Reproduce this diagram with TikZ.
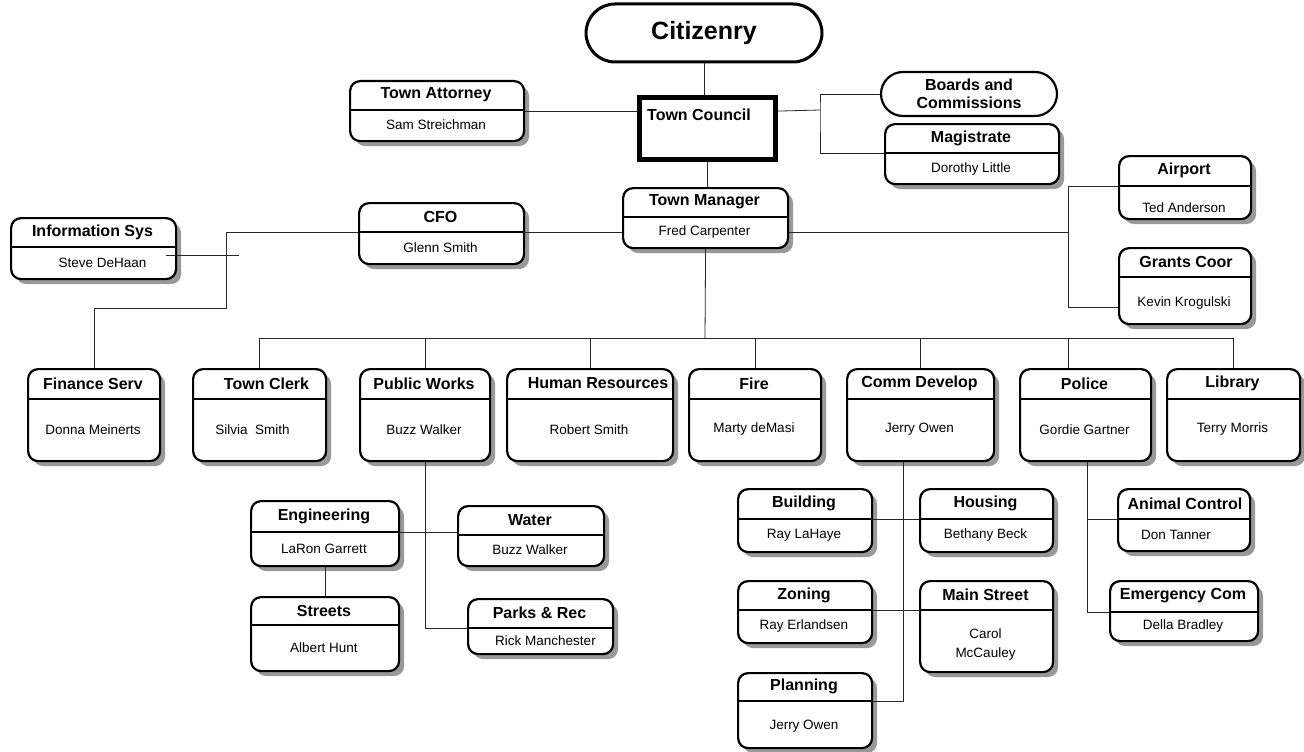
\documentclass[tikz,border=0pt]{standalone}
\usepackage{fontspec}
\setmainfont{Liberation Sans}
\usetikzlibrary{shadows,shapes.misc,calc}

\tikzset{
  orgbox/.style={draw, line width=2.2pt, rounded corners=10pt, fill=white,
    anchor=north west, inner sep=0pt,
    drop shadow={shadow xshift=5pt, shadow yshift=-5pt, fill=black!40, opacity=1}},
  pill/.style={draw, line width=2.2pt, rounded rectangle, fill=white, align=center,
    inner sep=1pt, font=\bfseries\fontsize{16}{18}\selectfont},
  sepline/.style={line width=2.8pt},
  boxtitle/.style={font=\bfseries\fontsize{16}{18}\selectfont, inner sep=0pt},
  boxname/.style={font=\fontsize{13.5}{19}\selectfont, align=center, inner sep=0pt},
  link/.style={line width=0.8pt, draw=black!85},
}

\begin{document}
\begin{tikzpicture}[x=1pt, y=-1pt]
    \useasboundingbox (0,0) rectangle (1304,752);

    % top of the chart
    \node[pill, line width=3pt, minimum width=238, minimum height=58,
        font=\bfseries\fontsize{25}{28}\selectfont] (cit) at (704,33) {Citizenry};
    \node[pill, minimum width=178, minimum height=44] (bc) at (969,94) {Boards and\\Commissions};
    \node[draw, line width=4.5pt, fill=white, anchor=north west, minimum width=136, minimum height=62,
        drop shadow={shadow xshift=3pt, shadow yshift=-3pt, fill=black!40, opacity=1}] (tc) at (637,95) {};
    \node[boxtitle] (tc-t) at (699,115) {Town Council};

    % offices: id / left / top / width / height / header / title shift / name shifts / title / person
    \foreach \id/\x/\y/\w/\h/\hd/\tx/\nx/\ny/\ttl/\per in {
        ta/349/80/174/60/30/0/0/0/Town Attorney/Sam Streichman,
        mag/884/123/174/60/30/0/0/1/Magistrate/Dorothy Little,
        tm/622/187/165/60/30/0/0/0/Town Manager/Fred Carpenter,
        cfo/358/202/165/61/30/0/0/0/CFO/Glenn Smith,
        is/10/217/165/61/30/0/10/0/Information Sys/Steve DeHaan,
        air/1118/155/132/63/31/0/0/6/Airport/Ted Anderson,
        gr/1118/247/132/76/30/2/0/3/Grants Coor/Kevin Krogulski,
        fin/27/368/132/92/31/0/0/0/Finance Serv/Donna Meinerts,
        clk/192/368/133/92/31/8/-6/0/Town Clerk/Silvia\ \ Smith,
        pw/359/368/130/92/31/0/0/0/Public Works/Buzz Walker,
        hr/506/368/166/92/31/9/0/0/Human Resources/Robert Smith,
        fire/688/368/132/92/31/0/0/0/Fire/Marty deMasi,
        cd/846/368/147/92/31/0/0/0/Comm Develop/Jerry Owen,
        pol/1019/368/131/92/31/0/0/0/Police/Gordie Gartner,
        lib/1166/368/133/92/31/0/0/0/Library/Terry Morris,
        eng/250/500/148/65/32/0/0/0/Engineering/LaRon Garrett,
        wat/457/505/146/60/30/0/0/0/Water/Buzz Walker,
        str/250/596/148/74/29/0/0/0/Streets/Albert Hunt,
        pr/467/598/145/55/30/0/6/0/Parks \& Rec/Rick Manchester,
        bld/737/488/134/63/31/0/0/0/Building/Ray LaHaye,
        hou/919/488/133/63/31/0/0/0/Housing/Bethany Beck,
        zon/737/580/134/62/30/0/0/0/Zoning/Ray Erlandsen,
        ms/919/580/133/91/30/0/0/4/Main Street/Carol\\McCauley,
        pln/737/672/134/75/29/0/0/2/Planning/Jerry Owen,
        ac/1117/488/132/62/31/2/-7/0/Animal Control/Don Tanner,
        ec/1109/580/148/60/32/0/0/0/Emergency Com/Della Bradley}
    {
        \node[orgbox, minimum width=\w, minimum height=\h] (\id) at (\x,\y) {};
        \coordinate (\id-l) at (\x,{\y+\hd});
        \coordinate (\id-r) at ({\x+\w},{\y+\hd});
        \draw[sepline] (\id-l) -- (\id-r);
        \node[boxtitle] (\id-t) at ({\x+\w/2+\tx},{\y+\hd/2}) {\ttl};
        \node[boxname] (\id-p) at ({\x+\w/2+\nx},{\y+(\h+\hd)/2+\ny}) {\per};
    }

    % joints of the lines
    \coordinate (tcj) at (820,110);
    \coordinate (tmj) at (1068,232);
    \coordinate (finj) at (226,308);
    \coordinate (isend) at (239,255);
    \coordinate (bus) at (705,338);
    \coordinate (poldrop) at (1068,338);
    \coordinate (polj) at ($(pol.south)+(1.5,0)$);

    \draw[link] (cit.south) -- (cit.south |- tc.north);
    \draw[link] (ta.east) -- (ta.east -| tc.west);
    \draw[link] (ta.east -| tc.east) -- (tcj);
    \draw[link] (bc.west) -| (tcj) |- (mag-l);
    \draw[link] (tc.south) -- (tc.south |- tm.north);

    \draw[link] (cfo-r) -- (cfo-r -| tm.west);
    \draw[link] (cfo-r -| tm.east) -- (tmj);
    \draw[link] (air-l) -| (tmj) |- ($(gr.west)+(0,21)$);
    \draw[link] (cfo-l) -| (finj) -| (fin.north);
    \draw[link] ($(is.east |- isend)+(-11,0)$) -- (isend);

    \draw[link] (tm.south) -- (bus);
    \draw[link] (clk.north |- bus) -- (lib.north |- bus);
    \foreach \b in {clk,pw,hr,fire,cd,lib}
        \draw[link] (\b.north |- bus) -- (\b.north);
    \draw[link] (poldrop) -- (poldrop |- pol.north);

    \draw[link] (pw.south) |- (pr-l);
    \draw[link] (eng-r) -- (eng-r -| wat.west);
    \draw[link] (eng.south) -- (eng.south |- str.north);

    \draw[link] ($(cd.south)+(-17,0)$) |- (pln-r);
    \draw[link] (bld-r) -- (bld-r -| hou.west);
    \draw[link] (zon-r) -- (zon-r -| ms.west);

    \draw[link] (polj) |- (ec-l);
    \draw[link] (ac-l) -- (ac-l -| polj);
\end{tikzpicture}
\end{document}
